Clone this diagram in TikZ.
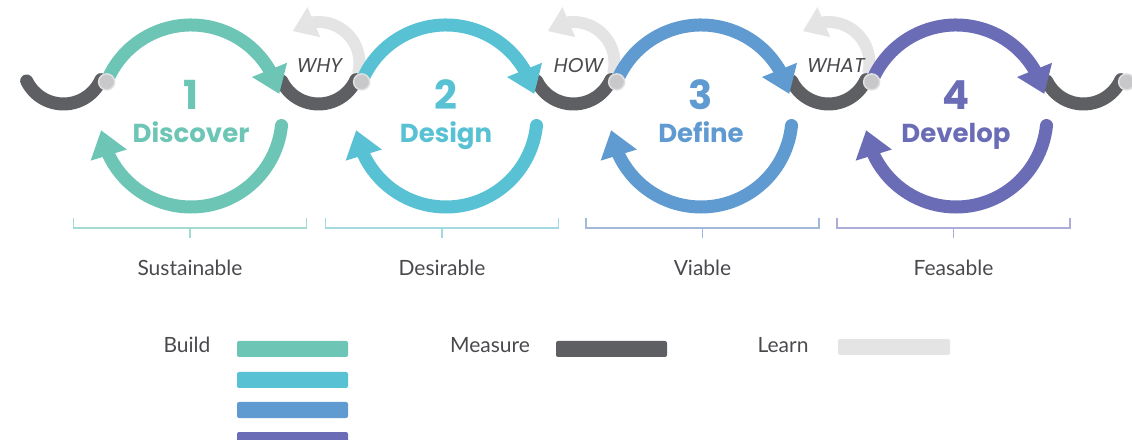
\documentclass[tikz,border=0pt]{standalone}
\usepackage{fontspec}
\setmainfont{Lato}
\newfontfamily\pop{Poppins}
\usetikzlibrary{arrows.meta,bending}
\definecolor{cA}{HTML}{6CC5B5}
\definecolor{cB}{HTML}{58C2D4}
\definecolor{cC}{HTML}{5F9AD0}
\definecolor{cD}{HTML}{6A6DB6}
\definecolor{meas}{HTML}{5E5F63}
\definecolor{learn}{HTML}{E4E4E4}
\definecolor{dotc}{HTML}{C8C8CA}
\definecolor{dotr}{HTML}{E0E0E2}
\definecolor{txt}{HTML}{4A4A4E}
\definecolor{brA}{HTML}{A3DAD2}
\definecolor{brB}{HTML}{A3D9E0}
\definecolor{brC}{HTML}{A2B8DA}
\definecolor{brD}{HTML}{ACADD8}
\begin{document}
\begin{tikzpicture}[x=1pt,y=1pt,
  cyc/.style={line width=13pt},
  arr/.style={-{Triangle[length=26pt,width=36pt,flex]}},
  larr/.style={-{Triangle[length=23pt,width=31pt,flex]}},
  measarc/.style={line width=13pt,meas,line cap=round},
  learnarc/.style={line width=12pt,learn},
  jdot/.style={circle,fill=dotc,draw=dotr,line width=1.5pt,minimum size=16pt,inner sep=0pt},
  numtxt/.style={font=\pop\bfseries\fontsize{40}{40}\selectfont,anchor=base},
  nametxt/.style={font=\pop\bfseries\fontsize{26}{26}\selectfont,anchor=base},
  qtxt/.style={font=\pop\itshape\fontsize{20}{20}\selectfont,text=txt,anchor=base},
  labtxt/.style={font=\fontsize{21}{21}\selectfont,text=txt,anchor=base},
  legtxt/.style={font=\fontsize{21}{21}\selectfont,text=txt,anchor=base},
  brk/.style={line width=1.5pt},
  bar/.style={rounded corners=2pt}]
\useasboundingbox (0,0) rectangle (1132,439);
\clip (0,0) rectangle (1132,439);
% learn arcs
\foreach \k in {1,2,3}{
  \pgfmathsetmacro\sx{63.5+255*\k}
  \draw[learnarc,larr] ([shift={(-15:41)}]\sx,376) arc[start angle=-15,end angle=129,radius=41];
}
% measure arcs
\foreach \k in {0,...,4}{
  \pgfmathsetmacro\sx{63.5+255*\k}
  \draw[measarc] ([shift={(206:41)}]\sx,376) arc[start angle=206,end angle=336,radius=41];
}
% main cycles
\foreach \k/\col/\num/\name in {0/cA/1/Discover,1/cB/2/Design,2/cC/3/Define,3/cD/4/Develop}{
  \pgfmathsetmacro\cx{191+255*\k}
  \draw[cyc,\col,arr] ([shift={(158:91)}]\cx,323) arc[start angle=158,end angle=14,radius=91];
  \draw[cyc,\col,line cap=round,arr] ([shift={(-6:91)}]\cx,323) arc[start angle=-6,end angle=-171,radius=91];
  \node[numtxt,text=\col] (num\k) at (\cx,329) {\num};
  \node[nametxt,text=\col] (name\k) at (\cx,296) {\name};
  \node[jdot] (dot\k) at ([shift={(158:91)}]\cx,323) {};
}
\node[jdot] (dot4) at ([shift={(158:91)}]1211,323) {};
% questions
\node[qtxt] (why) at (319.5,366) {WHY};
\node[qtxt] (how) at (578.5,366) {HOW};
\node[qtxt] (what) at (836,366) {WHAT};
% brackets
\foreach \k/\bx/\br/\lab in {0/190/brA/Sustainable,1/442/brB/Desirable,2/702.5/brC/Viable,3/953.5/brD/Feasable}{
  \draw[brk,\br] (\bx-116.5,221) -- (\bx-116.5,211) -- (\bx+116.5,211) -- (\bx+116.5,221);
  \draw[brk,\br] (\bx,211) -- (\bx,201);
  \node[labtxt] (lab\k) at (\bx,163) {\lab};
}
% legend
\node[legtxt] (build) at (187,86) {Build};
\fill[bar,cA] (237,82) rectangle (348,98);
\fill[bar,cB] (237,51) rectangle (348,67);
\fill[bar,cC] (237,21) rectangle (348,37);
\fill[bar,cD] (237,-9) rectangle (348,7);
\node[legtxt] (measure) at (490,86) {Measure};
\fill[bar,meas] (556,82) rectangle (667,98);
\node[legtxt] (learnl) at (783,86) {Learn};
\fill[bar,learn] (838,84) rectangle (950,100);
\end{tikzpicture}
\end{document}
